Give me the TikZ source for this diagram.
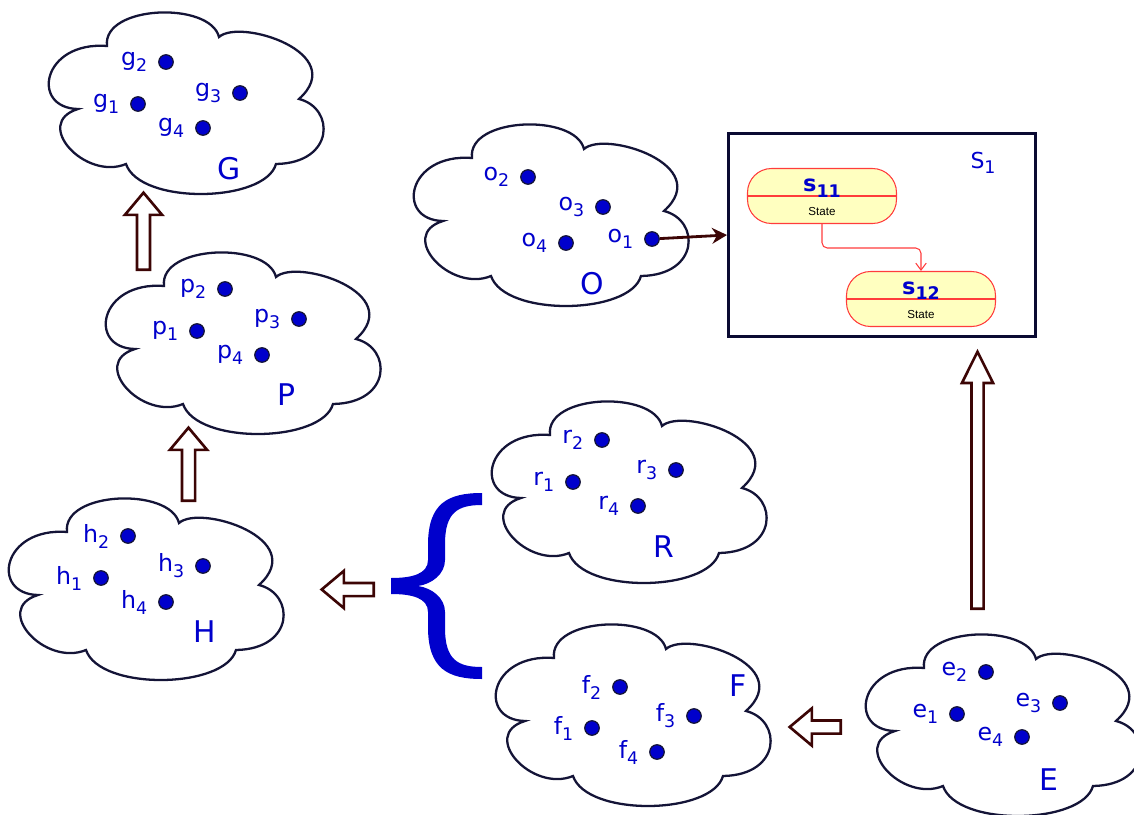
\documentclass[tikz,border=0pt]{standalone}
\usepackage{fontspec}
\setmainfont{DejaVu Sans}
\newfontfamily\statefont{Liberation Sans}
\usetikzlibrary{positioning,shapes.arrows,arrows.meta}
\definecolor{elemblue}{RGB}{0,0,204}
\definecolor{cloudink}{RGB}{20,20,55}
\definecolor{arrowink}{RGB}{60,5,5}
\definecolor{stateline}{RGB}{255,60,60}
\definecolor{statefill}{RGB}{255,255,192}
\definecolor{boxink}{RGB}{10,10,50}
\newcommand{\subx}[1]{\raisebox{-3.4pt}{\fontsize{9.9}{10}\selectfont #1}}
\newcommand{\shaft}[1]{\phantom{\rule{#1}{#1}}}

\begin{document}
\begin{tikzpicture}[x=0.02cm,y=-0.02cm,
  cloudline/.style={draw=cloudink,line width=1.3pt,fill=white},
  elem/.style={circle,fill=elemblue,draw=cloudink,line width=0.7pt,minimum size=0.29cm,inner sep=0pt},
  lbl/.style={text=elemblue,inner sep=0pt,font=\fontsize{13.5}{14}\selectfont},
  setname/.style={text=elemblue,inner sep=0pt,font=\fontsize{17}{18}\selectfont},
  blockarrow/.style={single arrow,draw=arrowink,fill=white,line width=1.5pt,inner sep=0pt,
    single arrow head extend=0.24cm,single arrow tip angle=80,anchor=tail},
  statebox/.style={draw=stateline,fill=statefill,line width=0.6pt,rounded corners=0.48cm,
    minimum width=2.98cm,minimum height=1.1cm,inner sep=0pt},
  statetitle/.style={text=elemblue,inner sep=0pt,font=\bfseries\fontsize{12.8}{13}\selectfont},
  statetxt/.style={inner sep=0pt,font=\statefont\fontsize{6.6}{7}\selectfont}]
\def\cloudpath{(57,33) .. controls (52,-8) and (160,-12) .. (169,24)
  .. controls (190,5) and (300,40) .. (249,86)
  .. controls (285,95) and (285,150) .. (226,151)
  .. controls (215,190) and (90,192) .. (76,151)
  .. controls (35,168) and (-18,110) .. (28,96)
  .. controls (-20,95) and (-8,28) .. (57,33) -- cycle}
\clip (0,0) rectangle (1134,815);
\useasboundingbox (0,0) rectangle (1134,815);

% the sets
\foreach \cn/\cx/\cy/\nx/\ny in {G/50/13/229/169, P/107/253/287/395, H/10/499/205/632,
  O/415/125/592/284, R/493/402/664/547, F/497/625/738/686, E/867/635/1049/780}
{
  \draw[cloudline, shift={(\cx,\cy)}] \cloudpath;
  \node[setname] (\cn) at (\nx,\ny) {\cn};
}

% their elements
\foreach \n/\s/\x/\y in {
  g/1/138/104, g/2/166/62, g/3/240/93, g/4/203/128,
  p/1/197/331, p/2/225/289, p/3/299/319, p/4/262/355,
  h/1/101/578, h/2/128/536, h/3/203/566, h/4/166/602,
  o/1/652/239, o/2/528/177, o/3/603/207, o/4/566/243,
  r/1/573/482, r/2/602/440, r/3/676/470, r/4/638/506,
  f/1/592/728, f/2/620/687, f/3/694/716, f/4/657/752,
  e/1/957/714, e/2/986/672, e/3/1060/703, e/4/1022/737}
{
  \node[elem] (\n\s) at (\x,\y) {};
  \node[lbl, left=0.21cm of \n\s] (l\n\s) {\n\subx{\s}};
}

% block arrows
\node[blockarrow, shape border rotate=90, minimum height=1.54cm] (upPG) at (143.5,271) {\shaft{0.21cm}};
\node[blockarrow, shape border rotate=90, minimum height=1.46cm] (upHP) at (188.5,502) {\shaft{0.21cm}};
\node[blockarrow, shape border rotate=180, minimum height=1.04cm] (toH) at (375,589.5) {\shaft{0.21cm}};
\node[blockarrow, shape border rotate=180, minimum height=1.02cm] (toF) at (842,727) {\shaft{0.21cm}};
\node[blockarrow, shape border rotate=90, minimum height=5.14cm,
  single arrow head extend=0.19cm, single arrow tip angle=53] (toS) at (977.5,610) {\shaft{0.19cm}};

% brace over R and F
\fill[elemblue] (482,493) .. controls (448,493) and (428,503) .. (428,545) -- (428,560)
  .. controls (428,574) and (412,578) .. (391,578) -- (391,594)
  .. controls (412,594) and (428,598) .. (428,612) -- (428,627)
  .. controls (428,669) and (448,679) .. (482,679) -- (482,667)
  .. controls (458,667) and (445,660) .. (445,628) -- (445,612)
  .. controls (445,598) and (432,588) .. (418,586)
  .. controls (432,584) and (445,574) .. (445,560) -- (445,544)
  .. controls (445,512) and (458,505) .. (482,505) -- cycle;

% state machine S_1
\node[draw=boxink, line width=1.7pt, minimum width=6.14cm, minimum height=4.06cm, inner sep=0pt] (S1) at (882,235) {};
\node[lbl, font=\fontsize{12.5}{13}\selectfont, anchor=base] (lS1) at (983,168) {S\subx{1}};
\node[statebox] (s11) at (822,196) {};
\node[statebox] (s12) at (921,299) {};
\draw[stateline, line width=0.6pt] (s11.west) -- (s11.east);
\draw[stateline, line width=0.6pt] (s12.west) -- (s12.east);
\node[statetitle, anchor=base] (ts11) at (822,191.5) {s\subx{11}};
\node[statetxt, anchor=base] (st11) at (822,215) {State};
\node[statetitle, anchor=base] (ts12) at (921,294) {s\subx{12}};
\node[statetxt, anchor=base] (st12) at (921,318) {State};
\coordinate (tbend) at (822,248);
\draw[stateline, line width=0.6pt, rounded corners=3pt, -{Straight Barb[length=4pt,width=6pt]}]
  (s11.south) -- (tbend) -| (s12.north);

\draw[arrowink, line width=1.6pt, -{Stealth[length=8.5pt,width=9pt]}] (o1) -- (S1.west);
\end{tikzpicture}
\end{document}
